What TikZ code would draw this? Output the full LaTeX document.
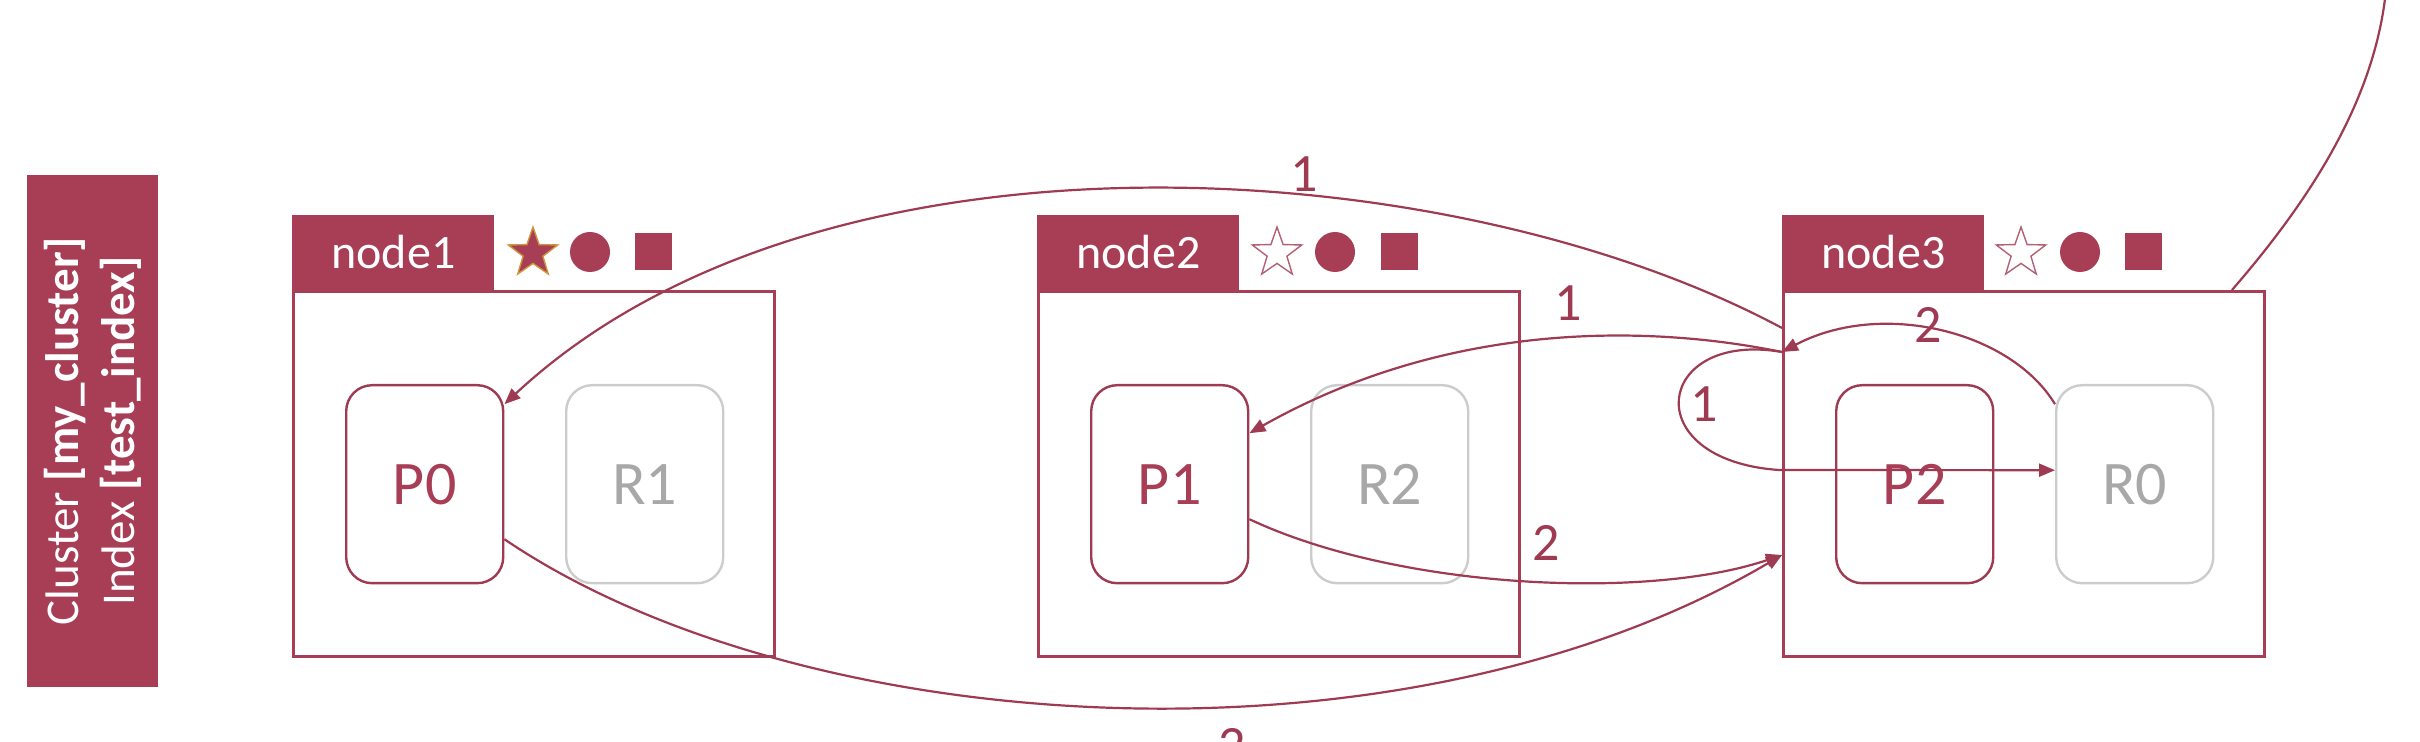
\documentclass[tikz,border=0pt]{standalone}
\usepackage{fontspec}
\setmainfont{Carlito}
\usetikzlibrary{arrows.meta,shapes.geometric}
\definecolor{crim}{RGB}{168,62,86}
\definecolor{lnc}{RGB}{158,58,82}
\definecolor{gbd}{RGB}{204,204,204}
\definecolor{gtx}{RGB}{168,168,168}
\definecolor{goldc}{RGB}{205,150,60}
\begin{document}
\begin{tikzpicture}[x=0.5pt,y=-0.5pt,
  nodebox/.style={draw=crim, line width=1.4pt, minimum width=240.5pt, minimum height=182.5pt, inner sep=0pt, anchor=north west},
  tab/.style={fill=crim, text=white, minimum width=101pt, minimum height=37.5pt, inner sep=0pt, anchor=south west, font=\fontsize{24}{28}\selectfont},
  pbox/.style={draw=lnc, line width=1.2pt, rounded corners=13pt, minimum width=78.5pt, minimum height=99pt, inner sep=0pt, anchor=north west, text=crim, font=\fontsize{31}{35}\selectfont},
  rbox/.style={pbox, draw=gbd, text=gtx},
  conn/.style={draw=lnc, line width=1.1pt},
  arr/.style={conn, -{Triangle[length=8pt,width=6.5pt]}},
  lbl/.style={text=lnc, font=\fontsize{27}{30}\selectfont, inner sep=0pt},
  starfull/.style={star, star points=5, star point ratio=2.5, minimum size=26pt, inner sep=0pt, fill=crim, draw=goldc, line width=0.7pt},
  starempty/.style={starfull, fill=white, draw=lnc!80},
  icondot/.style={circle, fill=crim, minimum size=20pt, inner sep=0pt},
  iconsq/.style={fill=crim, minimum size=18.5pt, inner sep=0pt}
]
\useasboundingbox (0,0) rectangle (2420,742);
\clip (0,0) rectangle (2420,742);

% cluster label
\node[fill=crim, minimum width=256pt, minimum height=65.5pt, rotate=90, text=white, align=center, inner sep=0pt,
      font=\fontsize{23.5}{28}\selectfont] (cl) at (92.5,431)
  {Cluster \textbf{[my\_cluster]}\\Index \textbf{[test\_index]}};

% node1
\node[nodebox] (n1) at (292,290) {};
\node[tab] (t1) at (292,290) {node1};
\node[pbox] (P0) at (345,384) {P0};
\node[rbox] (R1) at (565,384) {R1};
\node[starfull] (s1) at (533,253) {};
\node[icondot] (c1) at (590,252) {};
\node[iconsq] (q1) at (653.5,252) {};

% node2
\node[nodebox] (n2) at (1037,290) {};
\node[tab] (t2) at (1037,290) {node2};
\node[pbox] (P1) at (1090,384) {P1};
\node[rbox] (R2) at (1310,384) {R2};
\node[starempty] (s2) at (1277,253) {};
\node[icondot] (c2) at (1335,252) {};
\node[iconsq] (q2) at (1399,252) {};

% node3
\node[nodebox] (n3) at (1782,290) {};
\node[tab] (t3) at (1782,290) {node3};
\node[pbox] (P2) at (1835,384) {P2};
\node[rbox] (R0) at (2055,384) {R0};
\node[starempty] (s3) at (2021,253) {};
\node[icondot] (c3) at (2080,252) {};
\node[iconsq] (q3) at (2143,252) {};

% named connection points
\coordinate (E1) at ([yshift=-19pt]n3.north west);
\coordinate (E) at ([yshift=-31pt]n3.north west);
\coordinate (E2) at ([yshift=-132.5pt]n3.north west);
\coordinate (L) at ([xshift=-1.5pt,yshift=-90pt]n3.north west);
\coordinate (T0) at ([xshift=225pt]n3.north west);
\coordinate (T1) at (2386,-10);

% step 1
\draw[arr] (E1) .. controls (1450,150) and (820,110) .. ([yshift=40pt]P0.east);
\node[lbl] (la) at (1304,174) {1};
\draw[arr] (E) .. controls (1650,325) and (1450,320) .. ([yshift=25.5pt]P1.east);
\node[lbl] (lb) at (1568,303) {1};
\draw[arr] (E) .. controls (1655,330) and (1635,460) .. (L) -- ([yshift=7pt]R0.west);
\node[lbl] (lc) at (1704,404) {1};

% step 2
\draw[arr] ([yshift=40pt]R0.west) .. controls (2010,330) and (1880,300) .. (E);
\node[lbl] (ld) at (1928,325) {2};
\draw[arr] ([yshift=-17.5pt]P1.east) .. controls (1400,590) and (1650,600) .. (E2);
\node[lbl] (le) at (1546,543) {2};
\draw[arr] ([yshift=-27.5pt]P0.east) .. controls (800,740) and (1400,780) .. (E2);
\node[lbl] (lf) at (1232,746) {2};

% outgoing
\draw[conn] (T0) .. controls (2310,200) and (2375,100) .. (T1);
\end{tikzpicture}
\end{document}
